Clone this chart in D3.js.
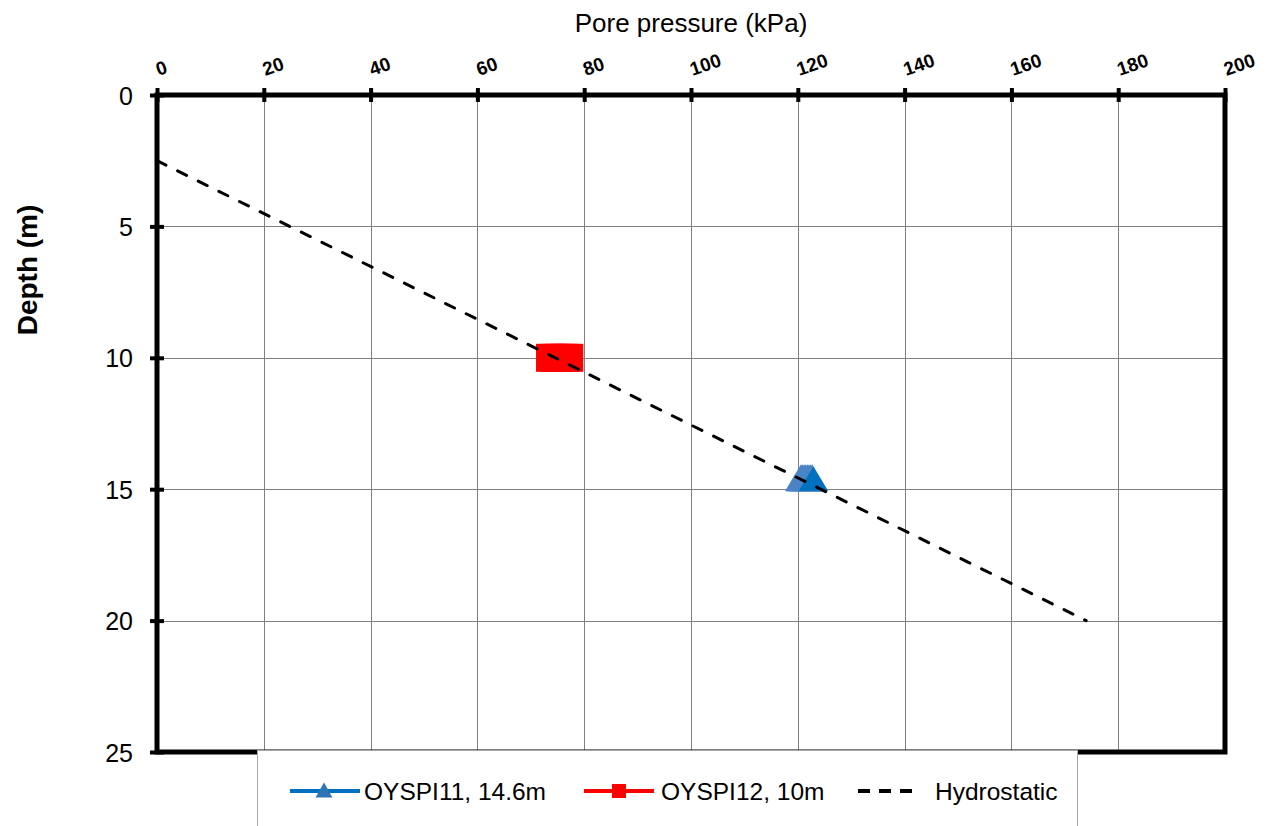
<!DOCTYPE html>
<html lang="en">

<head>
    <meta charset="UTF-8">
    <title>Pore pressure vs depth</title>
    <script src="https://cdn.jsdelivr.net/npm/d3@7"></script>
    <style>
        body { margin: 0; background: #fff; }
        svg { font-family: "Liberation Sans", Arial, sans-serif; }
    </style>
</head>

<body>
    <div id="container"></div>

    <script>
        const width = 1274;
        const height = 826;
        const margin = { top: 95, left: 157, right: 49, bottom: 74 };

        // axis ticks
        const pressureTicks = [0, 20, 40, 60, 80, 100, 120, 140, 160, 180, 200];
        const depthTicks = [0, 5, 10, 15, 20, 25];

        // OYSPI11 readings at 14.6 m (older readings + latest one)
        const oyspi11Depth = 14.6;
        const oyspi11Pressure = [120.6, 120.9, 121.2, 121.5, 121.8, 122.1, 122.4, 122.7];
        const oyspi11Latest = [122.9];

        // OYSPI12 readings at 10 m
        const oyspi12Depth = 10;
        const oyspi12Pressure = [73.6, 74.5, 75.4, 76.3, 77.2];

        // hydrostatic line
        const hydroPressure = [0, 174];
        const hydroDepth = [2.5, 20];

        const legendNames = ['OYSPI11, 14.6m', 'OYSPI12, 10m', 'Hydrostatic'];

        const x = d3.scaleLinear().domain([0, 200]).range([margin.left, width - margin.right]);
        const y = d3.scaleLinear().domain([0, 25]).range([margin.top, height - margin.bottom]);

        const svg = d3.select('#container').append('svg')
            .attr('width', width)
            .attr('height', height);

        // grid
        const grid = svg.append('g').attr('stroke', '#808080').attr('stroke-width', 1);
        grid.selectAll('.vg')
            .data(pressureTicks.slice(1, -1))
            .join('line')
            .attr('x1', d => Math.round(x(d)) + 0.5).attr('x2', d => Math.round(x(d)) + 0.5)
            .attr('y1', y(0)).attr('y2', y(25));
        grid.selectAll('.hg')
            .data(depthTicks.slice(1, -1))
            .join('line')
            .attr('y1', d => Math.round(y(d)) + 0.5).attr('y2', d => Math.round(y(d)) + 0.5)
            .attr('x1', x(0)).attr('x2', x(200));

        // markers: OYSPI11 triangles
        const tri = (cx, cy, w, h) => `M${cx - w / 2},${cy + h / 2}L${cx},${cy - h / 2}L${cx + w / 2},${cy + h / 2}Z`;
        svg.append('g').selectAll('path')
            .data(oyspi11Pressure)
            .join('path')
            .attr('d', d => tri(x(d), y(oyspi11Depth) - 1, 32, 27))
            .attr('fill', '#4a84c6');
        svg.append('g').selectAll('path')
            .data(oyspi11Latest)
            .join('path')
            .attr('d', d => tri(x(d), y(oyspi11Depth), 29, 24))
            .attr('fill', '#0070c0');

        // OYSPI12 squares
        svg.append('g').selectAll('rect')
            .data(oyspi12Pressure)
            .join('rect')
            .attr('x', d => x(d) - 14)
            .attr('y', y(oyspi12Depth) - 14)
            .attr('width', 28)
            .attr('height', 28)
            .attr('fill', '#ff0000');

        // hydrostatic
        const line = d3.line().x(d => x(d[0])).y(d => y(d[1]));
        svg.append('path')
            .datum(hydroPressure.map((p, i) => [p, hydroDepth[i]]))
            .attr('d', line)
            .attr('fill', 'none')
            .attr('stroke', '#000')
            .attr('stroke-width', 3)
            .attr('stroke-linecap', 'round')
            .attr('stroke-dasharray', '10,13');

        // frame
        const frame = svg.append('g').attr('stroke', '#000').attr('stroke-width', 5).attr('fill', 'none');
        frame.append('rect')
            .attr('x', x(0)).attr('y', y(0))
            .attr('width', x(200) - x(0)).attr('height', y(25) - y(0));

        // top axis
        const topAxis = svg.append('g')
            .attr('transform', `translate(0,${y(0)})`)
            .call(d3.axisTop(x).tickValues(pressureTicks).tickSize(7).tickSizeOuter(0));
        topAxis.select('.domain').remove();
        topAxis.selectAll('.tick line').attr('y1', 7).attr('stroke-width', 4);
        topAxis.selectAll('.tick text')
            .attr('y', null)
            .attr('dy', null)
            .attr('text-anchor', 'start')
            .attr('transform', 'translate(1,-19) rotate(-19)')
            .attr('font-size', 19)
            .attr('font-weight', 'bold')
            .attr('font-family', '"Liberation Sans", Arial, sans-serif')
            .attr('fill', '#000');

        // left axis
        const leftAxis = svg.append('g')
            .attr('transform', `translate(${x(0)},0)`)
            .call(d3.axisLeft(y).tickValues(depthTicks).tickSize(7).tickPadding(17).tickSizeOuter(0));
        leftAxis.select('.domain').remove();
        leftAxis.selectAll('.tick line').attr('x1', 7).attr('stroke-width', 4);
        leftAxis.selectAll('.tick text')
            .attr('font-size', 25)
            .attr('dy', '0.36em')
            .attr('font-family', '"Liberation Sans", Arial, sans-serif')
            .attr('fill', '#000');

        // titles
        svg.append('text')
            .attr('x', (x(0) + x(200)) / 2)
            .attr('y', 32)
            .attr('text-anchor', 'middle')
            .attr('font-size', 26)
            .text('Pore pressure (kPa)');
        svg.append('text')
            .attr('transform', 'translate(37,270) rotate(-90)')
            .attr('text-anchor', 'middle')
            .attr('font-size', 28)
            .attr('font-weight', 'bold')
            .text('Depth (m)');

        // legend
        const legend = svg.append('g');
        legend.append('rect')
            .attr('x', 257.5).attr('y', 750.5)
            .attr('width', 820).attr('height', 90)
            .attr('fill', '#fff')
            .attr('stroke', '#a6a6a6');
        const ly = 791;
        const items = legend.selectAll('g')
            .data(legendNames)
            .join('g')
            .attr('transform', (d, i) => `translate(${[290, 584, 857][i]},${ly})`);
        items.filter((d, i) => i < 2).append('line')
            .attr('x1', 0).attr('x2', 70)
            .attr('stroke', (d, i) => ['#0070c0', '#ff0000'][i])
            .attr('stroke-width', 4);
        items.filter((d, i) => i === 0).append('path')
            .attr('d', tri(34, -1, 17, 15))
            .attr('fill', '#2e75b6');
        items.filter((d, i) => i === 1).append('rect')
            .attr('x', 28).attr('y', -7).attr('width', 14).attr('height', 14)
            .attr('fill', '#ff0000');
        items.filter((d, i) => i === 2).append('line')
            .attr('x1', 1).attr('x2', 60)
            .attr('stroke', '#000')
            .attr('stroke-width', 4)
            .attr('stroke-dasharray', '12,9');
        items.append('text')
            .attr('x', (d, i) => [74, 77, 78][i])
            .attr('dy', '0.35em')
            .attr('font-size', 24.5)
            .text(d => d);
    </script>
</body>

</html>
